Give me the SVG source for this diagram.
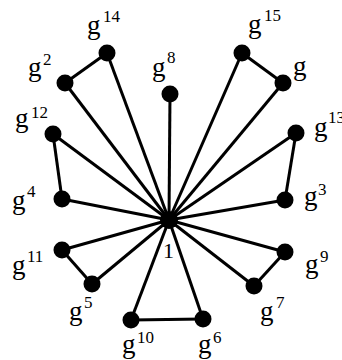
<svg xmlns="http://www.w3.org/2000/svg" width="342" height="360" viewBox="0 0 342 360">
<style>
.e{stroke:#000;stroke-width:3;fill:none}
.n{fill:#000}
text{font-family:"Liberation Serif","Times New Roman",serif;fill:#000}
.g{font-size:27px}
.s{font-size:17px}
</style>
<rect width="342" height="360" fill="#fff"/>
<g id="connectors" class="e">
<line x1="169" y1="220" x2="107" y2="53"/>
<line x1="169" y1="220" x2="65" y2="83"/>
<line x1="169" y1="220" x2="170" y2="94"/>
<line x1="169" y1="220" x2="53" y2="134"/>
<line x1="169" y1="220" x2="242" y2="53"/>
<line x1="169" y1="220" x2="283" y2="83"/>
<line x1="169" y1="220" x2="296" y2="133"/>
<line x1="169" y1="220" x2="62" y2="199"/>
<line x1="169" y1="220" x2="62" y2="250"/>
<line x1="169" y1="220" x2="92" y2="284"/>
<line x1="169" y1="220" x2="131" y2="320"/>
<line x1="169" y1="220" x2="285" y2="200"/>
<line x1="169" y1="220" x2="285" y2="252"/>
<line x1="169" y1="220" x2="254" y2="286"/>
<line x1="169" y1="220" x2="203" y2="319"/>
<line x1="65" y1="83" x2="107" y2="53"/>
<line x1="242" y1="53" x2="283" y2="83"/>
<line x1="53" y1="134" x2="62" y2="199"/>
<line x1="296" y1="133" x2="285" y2="200"/>
<line x1="62" y1="250" x2="92" y2="284"/>
<line x1="285" y1="252" x2="254" y2="286"/>
<line x1="131" y1="320" x2="203" y2="319"/>
</g>
<g id="n1"><circle class="n" cx="169" cy="220" r="9"/><text class="g" x="163" y="258" style="font-size:22px">1</text></g>
<g id="g14"><circle class="n" cx="107" cy="53" r="8.5"/><text class="g" x="87" y="34">g</text><text class="s" x="103" y="22">14</text></g>
<g id="g2"><circle class="n" cx="65" cy="83" r="8.5"/><text class="g" x="28" y="76">g</text><text class="s" x="43" y="65">2</text></g>
<g id="g8"><circle class="n" cx="170" cy="94" r="8.5"/><text class="g" x="152" y="76">g</text><text class="s" x="167" y="63">8</text></g>
<g id="g12"><circle class="n" cx="53" cy="134" r="8.5"/><text class="g" x="15" y="127">g</text><text class="s" x="31" y="118">12</text></g>
<g id="g15"><circle class="n" cx="242" cy="53" r="8.5"/><text class="g" x="248" y="33">g</text><text class="s" x="264" y="21">15</text></g>
<g id="g1"><circle class="n" cx="283" cy="83" r="8.5"/><text class="g" x="293" y="75">g</text></g>
<g id="g13"><circle class="n" cx="296" cy="133" r="8.5"/><text class="g" x="314" y="136">g</text><text class="s" x="328" y="123">13</text></g>
<g id="g4"><circle class="n" cx="62" cy="199" r="8.5"/><text class="g" x="12" y="209">g</text><text class="s" x="27" y="197">4</text></g>
<g id="g3"><circle class="n" cx="285" cy="200" r="8.5"/><text class="g" x="304" y="205">g</text><text class="s" x="318" y="195">3</text></g>
<g id="g11"><circle class="n" cx="62" cy="250" r="8.5"/><text class="g" x="12" y="274">g</text><text class="s" x="27" y="262">11</text></g>
<g id="g9"><circle class="n" cx="285" cy="252" r="8.5"/><text class="g" x="305" y="273">g</text><text class="s" x="320" y="262">9</text></g>
<g id="g5"><circle class="n" cx="92" cy="284" r="8.5"/><text class="g" x="69" y="320">g</text><text class="s" x="84" y="308">5</text></g>
<g id="g7"><circle class="n" cx="254" cy="286" r="8.5"/><text class="g" x="260" y="320">g</text><text class="s" x="276" y="308">7</text></g>
<g id="g10"><circle class="n" cx="131" cy="320" r="8.5"/><text class="g" x="122" y="353">g</text><text class="s" x="137" y="343">10</text></g>
<g id="g6"><circle class="n" cx="203" cy="319" r="8.5"/><text class="g" x="198" y="353">g</text><text class="s" x="213" y="343">6</text></g>
</svg>
